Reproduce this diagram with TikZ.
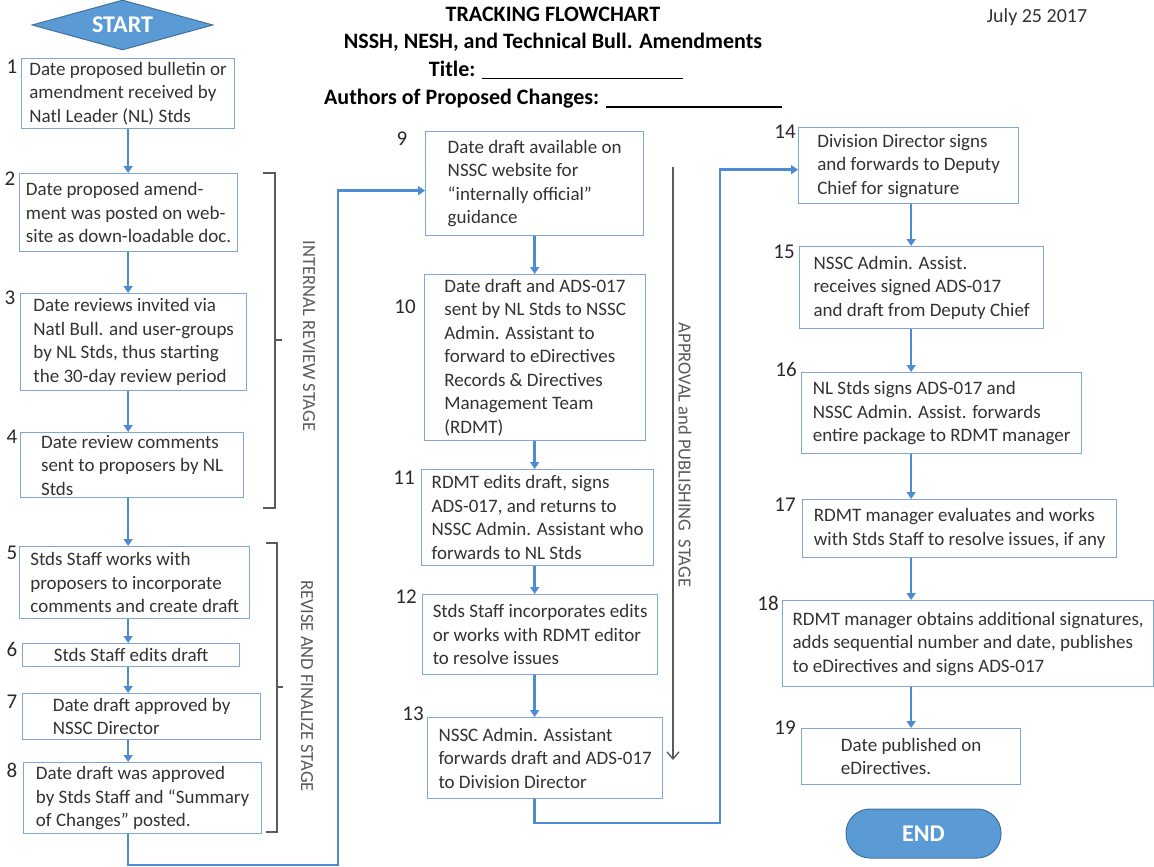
\documentclass[tikz,border=0pt]{standalone}
\usepackage{fontspec}
\setmainfont{Carlito}
\usepackage{xcolor}
\usetikzlibrary{arrows.meta}
\usetikzlibrary{shapes.geometric}
\definecolor{boxblue}{HTML}{7FA6D4}
\definecolor{flowblue}{HTML}{4D8CD2}
\definecolor{fillblue}{HTML}{5B9BD5}
\definecolor{edgeblue}{HTML}{41719C}
\definecolor{txt}{HTML}{333333}
\definecolor{stagegray}{HTML}{5A5A5A}

\begin{document}
\begin{tikzpicture}[x=1pt,y=-1pt,
	box/.style={draw=boxblue,line width=1.3pt,fill=white,anchor=north west,align=left,inner xsep=2pt,inner ysep=1pt,text=txt,font=\fontsize{19}{23.5}\selectfont},
	num/.style={text=txt!80!black,font=\fontsize{21}{24}\selectfont,inner sep=0pt},
	flow/.style={draw=flowblue,line width=2.6pt,-{Triangle[width=9pt,length=7pt]}},
	bracket/.style={draw=stagegray,line width=1.4pt},
	stage/.style={rotate=-90,text=stagegray,font=\fontsize{18.5}{22}\selectfont},
	heading/.style={font=\fontsize{22}{27}\selectfont\bfseries,text height=15pt,text depth=4pt},
	terminal/.style={fill=fillblue,draw=edgeblue,line width=1pt,text=white,font=\fontsize{24}{28}\selectfont\bfseries}]
	\useasboundingbox (0,0) rectangle (1154,867);
	
	\node[heading] (t1) at (553,16) {TRACKING FLOWCHART};
	\node[heading] (t2) at (553,43) {NSSH, NESH, and Technical Bull. Amendments};
	\node[heading] (t3) at (556,71) {Title: \rule[-3pt]{201pt}{1.6pt}};
	\node[heading] (t4) at (553,99) {Authors of Proposed Changes: \rule[-3pt]{176pt}{1.6pt}};
	\node[font=\fontsize{20}{24}\selectfont,text=txt] (date) at (1037,17) {July 25 2017};
	
	\node[terminal,diamond,aspect=3.6,inner sep=0pt,minimum width=181pt,minimum height=50pt] (start) at (122.5,25) {START};
	
	\node[box,minimum width=213pt,minimum height=70pt] (b1) at (21,58) {Date proposed bulletin or\\amendment received by\\Natl Leader (NL) Stds};
	\node[box,minimum width=218pt,minimum height=78pt] (b2) at (19,173) {Date proposed amend-\\ment was posted on web-\\site as down-loadable doc.};
	\node[box,minimum width=226pt,minimum height=97pt] (b3) at (20,293) {Date reviews invited via\\Natl Bull. and user-groups\\by NL Stds, thus starting\\the 30-day review period};
	\node[box,minimum width=223pt,minimum height=65pt] (b4) at (20,432) {Date review comments\\sent to proposers by NL\\Stds};
	\node[box,minimum width=230pt,minimum height=72pt] (b5) at (19,546) {Stds Staff works with\\proposers to incorporate\\comments and create draft};
	\node[box,minimum width=217pt,minimum height=23pt] (b6) at (22,643) {Stds Staff edits draft};
	\node[box,minimum width=238pt,minimum height=46pt] (b7) at (22,693) {Date draft approved by\\NSSC Director};
	\node[box,minimum width=238pt,minimum height=71pt] (b8) at (23,762) {Date draft was approved\\by Stds Staff and “Summary\\of Changes” posted.};
	
	\node[box,minimum width=218pt,minimum height=104pt] (b9) at (425,131) {Date draft available on\\NSSC website for\\“internally official”\\guidance};
	\node[box,minimum width=221pt,minimum height=166pt] (b10) at (424,274) {Date draft and ADS-017\\sent by NL Stds to NSSC\\Admin. Assistant to\\forward to eDirectives\\Records \& Directives\\Management Team\\(RDMT)};
	\node[box,minimum width=232pt,minimum height=96pt] (b11) at (421,469) {RDMT edits draft, signs\\ADS-017, and returns to\\NSSC Admin. Assistant who\\forwards to NL Stds};
	\node[box,minimum width=235pt,minimum height=80pt] (b12) at (422,594) {Stds Staff incorporates edits\\or works with RDMT editor\\to resolve issues};
	\node[box,minimum width=235pt,minimum height=81pt] (b13) at (427,717) {NSSC Admin. Assistant\\forwards draft and ADS-017\\to Division Director};
	
	\node[box,minimum width=220pt,minimum height=76pt] (b14) at (798,127) {Division Director signs\\and forwards to Deputy\\Chief for signature};
	\node[box,minimum width=244pt,minimum height=82pt] (b15) at (799,246) {NSSC Admin. Assist.\\receives signed ADS-017\\and draft from Deputy Chief};
	\node[box,minimum width=280pt,minimum height=81pt] (b16) at (801,372) {NL Stds signs ADS-017 and\\NSSC Admin. Assist. forwards\\entire package to RDMT manager};
	\node[box,minimum width=314pt,minimum height=58pt] (b17) at (802,499) {RDMT manager evaluates and works\\with Stds Staff to resolve issues, if any};
	\node[box,minimum width=371pt,minimum height=86pt] (b18) at (782,600) {RDMT manager obtains additional signatures,\\adds sequential number and date, publishes\\to eDirectives and signs ADS-017};
	\node[box,minimum width=219pt,minimum height=56pt] (b19) at (801,728) {Date published on\\eDirectives.};
	
	\node[terminal,rectangle,rounded corners=24pt,minimum width=155pt,minimum height=49pt] (finish) at (923.5,833.5) {END};
	
	\node[num] (n1) at (12,67) {1};
	\node[num] (n2) at (10,179) {2};
	\node[num] (n3) at (10,298) {3};
	\node[num] (n4) at (12,437) {4};
	\node[num] (n5) at (12,553) {5};
	\node[num] (n6) at (12,649) {6};
	\node[num] (n7) at (12,702) {7};
	\node[num] (n8) at (12,770) {8};
	\node[num] (n9) at (402,139) {9};
	\node[num] (n10) at (405,307) {10};
	\node[num] (n11) at (404,478) {11};
	\node[num] (n12) at (406,597) {12};
	\node[num] (n13) at (413,714) {13};
	\node[num] (n14) at (785,132) {14};
	\node[num] (n15) at (784,252) {15};
	\node[num] (n16) at (786,369) {16};
	\node[num] (n17) at (785,505) {17};
	\node[num] (n18) at (768,603) {18};
	\node[num] (n19) at (785,728) {19};
	
	\draw[flow] (b1.south) -- (b1.south |- b2.north);
	\draw[flow] (b2.south -| b1.south) -- (b3.north -| b1.south);
	\draw[flow] (b3.south -| b1.south) -- (b4.north -| b1.south);
	\draw[flow] (b4.south -| b1.south) -- (b5.north -| b1.south);
	\draw[flow] (b5.south -| b1.south) -- (b6.north -| b1.south);
	\draw[flow] (b6.south -| b1.south) -- (b7.north -| b1.south);
	\draw[flow] (b7.south -| b1.south) -- (b8.north -| b1.south);
	
	\coordinate (c1) at (338,865);
	\draw[flow] (b8.south -| b1.south) |- (c1) |- ([yshift=-7pt]b9.west);
	
	\draw[flow] (b9.south) -- (b9.south |- b10.north);
	\draw[flow] (b10.south -| b9.south) -- (b11.north -| b9.south);
	\draw[flow] (b11.south -| b9.south) -- (b12.north -| b9.south);
	\draw[flow] (b12.south -| b9.south) -- (b13.north -| b9.south);
	
	\coordinate (c2) at (720,823);
	\draw[flow] (b13.south -| b9.south) |- (c2) |- ([yshift=-4pt]b14.west);
	
	\draw[flow] (b14.south -| b19.north) -- (b15.north -| b19.north);
	\draw[flow] (b15.south -| b19.north) -- (b16.north -| b19.north);
	\draw[flow] (b16.south -| b19.north) -- (b17.north -| b19.north);
	\draw[flow] (b17.south -| b19.north) -- (b18.north -| b19.north);
	\draw[flow] (b18.south -| b19.north) -- (b19.north);
	
	\draw[bracket] (263,173) -- (275,173) -- (275,508) -- (263,508);
	\draw[bracket] (275,340) -- (282,340);
	\node[stage] (s1) at (309,336) {INTERNAL REVIEW STAGE};
	
	\draw[bracket] (266,543) -- (277,543) -- (277,832) -- (266,832);
	\draw[bracket] (277,687) -- (283,687);
	\node[stage] (s2) at (307,686) {REVISE AND FINALIZE STAGE};
	
	\coordinate (a1) at (673,167);
	\coordinate (a2) at (673,760);
	\draw[bracket,-{Straight Barb[length=7pt,width=12pt]}] (a1) -- (a2);
	\node[stage] (s3) at (685,455) {APPROVAL and PUBLISHING~~STAGE};
\end{tikzpicture}
\end{document}
